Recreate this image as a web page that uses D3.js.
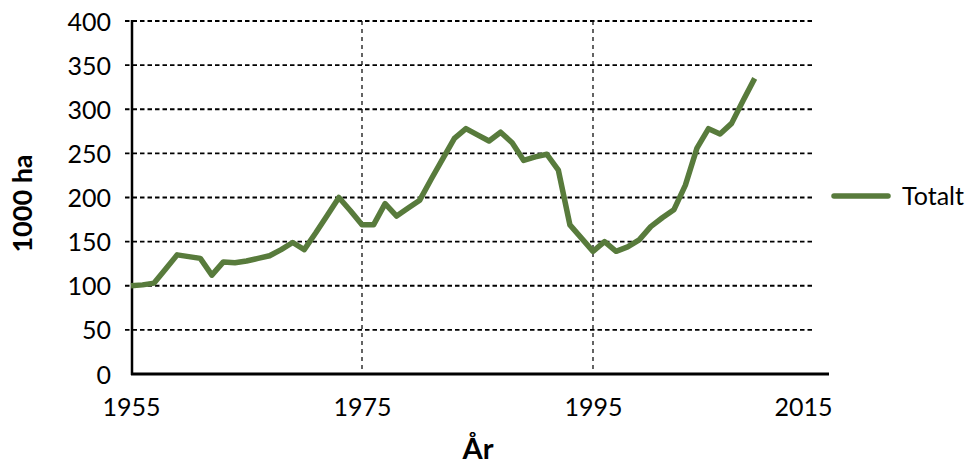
<!DOCTYPE html>
<html>
<head>
<meta charset="utf-8">
<script src="https://cdn.jsdelivr.net/npm/d3@7"></script>
<style>
	body { margin: 0; background: #fff; }
	svg text { font-family: Lato, "Open Sans", sans-serif; fill: #000; }
</style>
</head>
<body>
<svg id="chart" width="968" height="468"></svg>
<script>
// Areal (1000 ha) per år
var years = [1955, 1956, 1957, 1958, 1959, 1960, 1961, 1962, 1963, 1964, 1965, 1966, 1967, 1968, 1969,
	1970, 1971, 1972, 1973, 1974, 1975, 1976, 1977, 1978, 1979, 1980, 1981, 1982, 1983, 1984,
	1985, 1986, 1987, 1988, 1989, 1990, 1991, 1992, 1993, 1994, 1995, 1996, 1997, 1998, 1999,
	2000, 2001, 2002, 2003, 2004, 2005, 2006, 2007, 2008, 2009];
var totalt = [100, 101, 103, 119, 135, 133, 131, 112, 127, 126, 128, 131, 134, 141, 149,
	141, 160, 180, 200, 185, 169, 169, 193, 179, 188, 197, 221, 244, 267, 278,
	271, 264, 274, 262, 242, 246, 249, 231, 169, 154, 139, 150, 139, 144, 152,
	167, 177, 186, 214, 256, 278, 272, 284, 310, 335];
var yTicks = [0, 50, 100, 150, 200, 250, 300, 350, 400];
var xTicks = [1955, 1975, 1995, 2015];
var seriesName = "Totalt";

var svg = d3.select("#chart"),
	MARGINS = { top: 21, right: 139, bottom: 94, left: 132 },
	WIDTH = 968,
	HEIGHT = 468;

var xScale = d3.scaleLinear()
	.domain([1955, 2015])
	.range([MARGINS.left - 1, WIDTH - MARGINS.right - 5]);
var yScale = d3.scaleLinear()
	.domain([0, 400])
	.range([HEIGHT - MARGINS.bottom, MARGINS.top]);

// horizontal dashed gridlines
svg.append("g")
	.selectAll("line")
	.data(yTicks.filter(function(d) { return d > 0; }))
	.join("line")
	.attr("x1", MARGINS.left - 7)
	.attr("x2", 815)
	.attr("y1", function(d) { return yScale(d); })
	.attr("y2", function(d) { return yScale(d); })
	.attr("stroke", "#000")
	.attr("stroke-width", 1.8)
	.attr("stroke-dasharray", "4.5,3");

// vertical dashed gridlines
svg.append("g")
	.selectAll("line")
	.data([1975, 1995])
	.join("line")
	.attr("x1", function(d) { return xScale(d); })
	.attr("x2", function(d) { return xScale(d); })
	.attr("y1", yScale(400))
	.attr("y2", yScale(0))
	.attr("stroke", "#111")
	.attr("stroke-width", 1.3)
	.attr("stroke-dasharray", "4,4");

// y axis
var yAxis = d3.axisLeft(yScale)
	.tickValues(yTicks)
	.tickSize(0)
	.tickPadding(21);
var gy = svg.append("g")
	.attr("transform", "translate(" + MARGINS.left + ",0)")
	.call(yAxis);
gy.select(".domain").remove();
gy.selectAll("text")
	.style("font-size", "25px")
	.attr("dy", "0.36em");

svg.append("line")
	.attr("x1", MARGINS.left).attr("x2", MARGINS.left)
	.attr("y1", yScale(400) - 1).attr("y2", yScale(0) + 1)
	.attr("stroke", "#000").attr("stroke-width", 2.5);

// x axis
var xAxis = d3.axisBottom(xScale)
	.tickValues(xTicks)
	.tickFormat(d3.format("d"))
	.tickSize(0)
	.tickPadding(24);
var gx = svg.append("g")
	.attr("transform", "translate(0," + yScale(0) + ")")
	.call(xAxis);
gx.select(".domain").remove();
gx.selectAll("text")
	.style("font-size", "25px")
	.attr("dy", "0.71em");
// last label sits inside the frame, like in the original
gx.selectAll(".tick text")
	.filter(function(d) { return d === 2015; })
	.attr("text-anchor", "end")
	.attr("x", 8);

svg.append("line")
	.attr("x1", MARGINS.left - 1).attr("x2", 829)
	.attr("y1", yScale(0)).attr("y2", yScale(0))
	.attr("stroke", "#000").attr("stroke-width", 3);

// line
var lineGen = d3.line()
	.x(function(d, i) { return xScale(years[i]); })
	.y(function(d) { return yScale(d); });

svg.append("path")
	.attr("d", lineGen(totalt))
	.attr("fill", "none")
	.attr("stroke", "#587b3c")
	.attr("stroke-width", 5.5)
	.attr("stroke-linejoin", "round");

// legend
svg.append("line")
	.attr("x1", 834).attr("x2", 888)
	.attr("y1", 196).attr("y2", 196)
	.attr("stroke", "#587b3c")
	.attr("stroke-width", 5.5)
	.attr("stroke-linecap", "round");
svg.append("text")
	.attr("x", 902).attr("y", 196)
	.attr("dy", "0.36em")
	.style("font-size", "25px")
	.text(seriesName);

// axis titles
svg.append("text")
	.attr("transform", "translate(32," + ((yScale(0) + yScale(400)) / 2 + 6) + ") rotate(-90)")
	.attr("text-anchor", "middle")
	.style("font-size", "27px")
	.style("font-weight", "bold")
	.text("1000 ha");

svg.append("text")
	.attr("x", 478).attr("y", 459)
	.attr("text-anchor", "middle")
	.style("font-size", "29px")
	.style("font-weight", "bold")
	.text("År");
</script>
</body>
</html>
